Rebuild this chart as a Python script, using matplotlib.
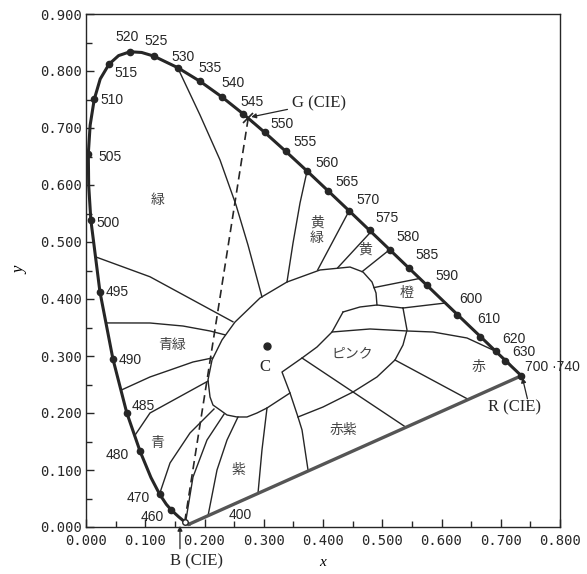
import matplotlib
matplotlib.use('Agg')
import matplotlib.pyplot as plt
from matplotlib.ticker import MultipleLocator, FormatStrFormatter

# spectral locus as drawn, from the violet end up round to the red end
locus_x = [0.1741, 0.1714, 0.1644, 0.1566, 0.1440, 0.1355, 0.1241, 0.1096, 0.0913,
           0.0687, 0.0454, 0.0235, 0.0082, 0.0045, 0.0039, 0.0070, 0.0139, 0.0240,
           0.0389, 0.0550, 0.0743, 0.0940, 0.1142, 0.1547, 0.1929, 0.2296, 0.2658,
           0.3016, 0.3373, 0.3731, 0.4087, 0.4441, 0.4788, 0.5125, 0.5448, 0.5752,
           0.6029, 0.6270, 0.6482, 0.6658, 0.6915, 0.7079, 0.7190, 0.7260, 0.7347]
locus_y = [0.0050, 0.0051, 0.0109, 0.0177, 0.0297, 0.0399, 0.0578, 0.0868, 0.1327,
           0.2007, 0.2950, 0.4127, 0.5384, 0.6000, 0.6548, 0.7050, 0.7502, 0.7860,
           0.8120, 0.8270, 0.8338, 0.8325, 0.8262, 0.8059, 0.7816, 0.7543, 0.7243,
           0.6923, 0.6589, 0.6245, 0.5896, 0.5547, 0.5202, 0.4866, 0.4544, 0.4242,
           0.3965, 0.3725, 0.3514, 0.3340, 0.3083, 0.2920, 0.2809, 0.2740, 0.2653]

# marked wavelengths (dots) on the locus
wl_labels = ['460', '470', '480', '485', '490', '495', '500', '505', '510', '515',
             '520', '525', '530', '535', '540', '545', '550', '555', '560', '565',
             '570', '575', '580', '585', '590', '600', '610', '620', '630', '700 ·740']
wl_x = [0.1440, 0.1241, 0.0913, 0.0687, 0.0454, 0.0235, 0.0082, 0.0039, 0.0139, 0.0389,
        0.0743, 0.1142, 0.1547, 0.1929, 0.2296, 0.2658, 0.3016, 0.3373, 0.3731, 0.4087,
        0.4441, 0.4788, 0.5125, 0.5448, 0.5752, 0.6270, 0.6658, 0.6915, 0.7079, 0.7347]
wl_y = [0.0297, 0.0578, 0.1327, 0.2007, 0.2950, 0.4127, 0.5384, 0.6548, 0.7502, 0.8120,
        0.8338, 0.8262, 0.8059, 0.7816, 0.7543, 0.7243, 0.6923, 0.6589, 0.6245, 0.5896,
        0.5547, 0.5202, 0.4866, 0.4544, 0.4242, 0.3725, 0.3340, 0.3083, 0.2920, 0.2653]
# where the wavelength numbers sit
wl_text_x = [0.111, 0.088, 0.052, 0.096, 0.074, 0.052, 0.038, 0.041, 0.044, 0.068,
             0.069, 0.118, 0.164, 0.209, 0.248, 0.280, 0.331, 0.370, 0.407, 0.441,
             0.476, 0.508, 0.543, 0.576, 0.609, 0.650, 0.680, 0.722, 0.739, 0.741]
wl_text_y = [0.018, 0.051, 0.126, 0.212, 0.293, 0.412, 0.533, 0.649, 0.749, 0.796,
             0.860, 0.853, 0.825, 0.805, 0.779, 0.746, 0.707, 0.675, 0.639, 0.605,
             0.574, 0.542, 0.509, 0.477, 0.440, 0.400, 0.365, 0.330, 0.307, 0.281]

# CIE primaries and illuminant C
prim_B = (0.1666, 0.0089)
prim_G = (0.2738, 0.7174)
prim_R = (0.7347, 0.2653)
white_C = (0.306, 0.317)

# central region round C
c_region_x = [0.3443, 0.3055, 0.2886, 0.2717, 0.2549, 0.2380, 0.2262, 0.2143, 0.2093,
              0.2059, 0.2127, 0.2295, 0.2515, 0.2937, 0.3392, 0.3949, 0.4456, 0.4675,
              0.4827, 0.4895, 0.4911]
c_region_y = [0.2351, 0.2088, 0.2000, 0.1930, 0.1930, 0.1965, 0.2053, 0.2140, 0.2281,
              0.2579, 0.2930, 0.3281, 0.3596, 0.4018, 0.4298, 0.4509, 0.4561, 0.4474,
              0.4298, 0.4105, 0.3895]
# pink region
pink_top_x = [0.4338, 0.4624, 0.4911, 0.5350]
pink_top_y = [0.3772, 0.3860, 0.3895, 0.3842]
hook_x = [0.4338, 0.4152, 0.3899, 0.3646, 0.3308, 0.3443, 0.3578, 0.3646, 0.3750]
hook_y = [0.3772, 0.3421, 0.3158, 0.2965, 0.2719, 0.2351, 0.1930, 0.1702, 0.0980]
pink_outer_x = [0.5350, 0.5418, 0.5350, 0.5215, 0.4911, 0.4506, 0.4000, 0.3578]
pink_outer_y = [0.3842, 0.3456, 0.3193, 0.2930, 0.2632, 0.2368, 0.2105, 0.1930]

# hue boundaries running out to the locus / purple line
line_530_x = [0.1547, 0.1924, 0.2262, 0.2532, 0.2734, 0.2970]
line_530_y = [0.8059, 0.7228, 0.6439, 0.5649, 0.4947, 0.4035]
line_495_x = [0.016, 0.108, 0.248]
line_495_y = [0.474, 0.439, 0.360]
line_bg1_x = [0.034, 0.108, 0.1637, 0.2093, 0.235]
line_bg1_y = [0.358, 0.3579, 0.3526, 0.3439, 0.337]
line_bg2_x = [0.059, 0.108, 0.1418, 0.1806, 0.213]
line_bg2_y = [0.240, 0.2632, 0.2754, 0.2895, 0.2965]
line_bg3_x = [0.082, 0.108, 0.206]
line_bg3_y = [0.160, 0.200, 0.256]
line_v1_x = [0.1241, 0.1418, 0.1755, 0.216]
line_v1_y = [0.0578, 0.1123, 0.1649, 0.207]
line_v2_x = [0.168, 0.1806, 0.2042, 0.233]
line_v2_y = [0.008, 0.0877, 0.1526, 0.198]
line_v3_x = [0.206, 0.2211, 0.238, 0.2565]
line_v3_y = [0.020, 0.100, 0.1526, 0.193]
line_v4_x = [0.2903, 0.297, 0.3055]
line_v4_y = [0.059, 0.1351, 0.2088]
line_560_x = [0.3731, 0.3612, 0.3494, 0.3392]
line_560_y = [0.6245, 0.5684, 0.4982, 0.4298]
line_570_x = [0.4441, 0.391]
line_570_y = [0.5547, 0.451]
line_575_x = [0.481, 0.425]
line_575_y = [0.518, 0.455]
line_580_x = [0.5125, 0.466]
line_580_y = [0.4866, 0.448]
line_588_x = [0.563, 0.486]
line_588_y = [0.436, 0.420]
line_597_x = [0.5350, 0.607]
line_597_y = [0.3842, 0.393]
line_red_x = [0.4152, 0.4793, 0.5418, 0.5857, 0.643, 0.69, 0.712, 0.719]
line_red_y = [0.3421, 0.3474, 0.3439, 0.3421, 0.3316, 0.309, 0.290, 0.281]
line_rp1_x = [0.3646, 0.540]
line_rp1_y = [0.2965, 0.175]
line_rp2_x = [0.5215, 0.645]
line_rp2_y = [0.2930, 0.224]

region_lines = [
    (c_region_x, c_region_y), (pink_top_x, pink_top_y), (hook_x, hook_y),
    (pink_outer_x, pink_outer_y), (line_530_x, line_530_y), (line_495_x, line_495_y),
    (line_bg1_x, line_bg1_y), (line_bg2_x, line_bg2_y), (line_bg3_x, line_bg3_y),
    (line_v1_x, line_v1_y), (line_v2_x, line_v2_y), (line_v3_x, line_v3_y),
    (line_v4_x, line_v4_y), (line_560_x, line_560_y), (line_570_x, line_570_y),
    (line_575_x, line_575_y), (line_580_x, line_580_y), (line_588_x, line_588_y),
    (line_597_x, line_597_y), (line_red_x, line_red_y), (line_rp1_x, line_rp1_y),
    (line_rp2_x, line_rp2_y),
]

# colour names of the regions
region_names = ['緑', '青緑', '青', '紫', '赤紫', 'ピンク', '赤', '橙', '黄', '黄\n緑']
region_x = [0.120, 0.145, 0.120, 0.257, 0.434, 0.449, 0.662, 0.541, 0.471, 0.390]
region_y = [0.574, 0.319, 0.147, 0.100, 0.170, 0.305, 0.281, 0.410, 0.486, 0.520]

ink = '#262626'
jp_font = ['Noto Sans CJK JP', 'DejaVu Sans']

fig = plt.figure(figsize=(5.87, 5.74), dpi=100)
ax = fig.add_axes([86 / 587, 1 - 527 / 574, 474 / 587, 513 / 574])
ax.set_xlim(0, 0.8)
ax.set_ylim(0, 0.9)

# spectral locus and purple line
ax.plot(locus_x, locus_y, color=ink, lw=2.2, solid_joinstyle='round', zorder=4)
ax.plot([locus_x[0], locus_x[-1]], [locus_y[0], locus_y[-1]], color='#555555',
        lw=2.4, zorder=4)
ax.plot(wl_x, wl_y, 'o', color=ink, ms=4.5, zorder=5)

for lx, ly in region_lines:
    ax.plot(lx, ly, color=ink, lw=1.0, zorder=3)

# B - G dashed line
ax.plot([prim_B[0], prim_G[0]], [prim_B[1], prim_G[1]], color=ink, lw=1.2,
        ls=(0, (5, 3)), zorder=3)
ax.plot(*prim_G, marker='x', color=ink, ms=7, mew=1.2, zorder=6)
ax.plot(*prim_B, marker='o', mfc='white', mec=ink, ms=4, zorder=6)

# illuminant C
ax.plot(*white_C, 'o', color=ink, ms=5, zorder=6)
ax.text(0.302, 0.281, 'C', fontsize=12, family='Liberation Serif', ha='center',
        va='center', color=ink)

for lab, tx, ty in zip(wl_labels, wl_text_x, wl_text_y):
    ha = 'left' if lab.startswith('700') else 'center'
    ax.text(tx, ty, lab, fontsize=10, family='Liberation Sans', ha=ha, va='center',
            color=ink, clip_on=False, zorder=7)
ax.text(0.260, 0.021, '400', fontsize=10, family='Liberation Sans', ha='center',
        va='center', color=ink)

for name, rx, ry in zip(region_names, region_x, region_y):
    ax.text(rx, ry, name, fontsize=10, family=jp_font, ha='center', va='center',
            color='#444444', linespacing=1.1)

# primaries labels
ax.annotate('G (CIE)', xy=(prim_G[0] + 0.005, prim_G[1] + 0.002), xytext=(0.347, 0.744),
            fontsize=12, family='Liberation Serif', ha='left', va='center', color=ink,
            arrowprops=dict(arrowstyle='-|>', color=ink, lw=0.9, mutation_scale=7,
                            shrinkA=1, shrinkB=0))
ax.annotate('', xy=(0.1586, 0.002), xytext=(0.1586, -0.038), annotation_clip=False,
            arrowprops=dict(arrowstyle='-|>', color=ink, lw=0.9, mutation_scale=7,
                            shrinkA=0, shrinkB=0))
ax.text(0.142, -0.061, 'B (CIE)', fontsize=12, family='Liberation Serif', ha='left',
        va='center', color=ink, clip_on=False)
ax.annotate('', xy=(0.7365, 0.262), xytext=(0.745, 0.225), annotation_clip=False,
            arrowprops=dict(arrowstyle='-|>', color=ink, lw=0.9, mutation_scale=7,
                            shrinkA=0, shrinkB=0))
ax.text(0.6785, 0.209, 'R (CIE)', fontsize=12, family='Liberation Serif', ha='left',
        va='center', color=ink)

# axes styling
for sp in ax.spines.values():
    sp.set_color(ink)
    sp.set_linewidth(1.0)
ax.xaxis.set_major_locator(MultipleLocator(0.1))
ax.xaxis.set_minor_locator(MultipleLocator(0.05))
ax.yaxis.set_major_locator(MultipleLocator(0.1))
ax.yaxis.set_minor_locator(MultipleLocator(0.05))
ax.xaxis.set_major_formatter(FormatStrFormatter('%.3f'))
ax.yaxis.set_major_formatter(FormatStrFormatter('%.3f'))
ax.tick_params(which='both', direction='in', color=ink, top=False, right=False)
ax.tick_params(which='major', length=6, width=1.0)
ax.tick_params(which='minor', length=4, width=1.0)
ax.tick_params(axis='y', which='major', pad=3)
ax.tick_params(axis='x', which='major', pad=5)
for lab in ax.get_xticklabels() + ax.get_yticklabels():
    lab.set_family('DejaVu Sans Mono')
    lab.set_fontsize(10)
    lab.set_color(ink)

ax.set_xlabel('x', fontsize=11, style='italic', family='Liberation Serif', labelpad=6)
ax.set_ylabel('y', fontsize=12, style='italic', family='Liberation Serif', labelpad=8)

fig.savefig('out.png', dpi=100)
